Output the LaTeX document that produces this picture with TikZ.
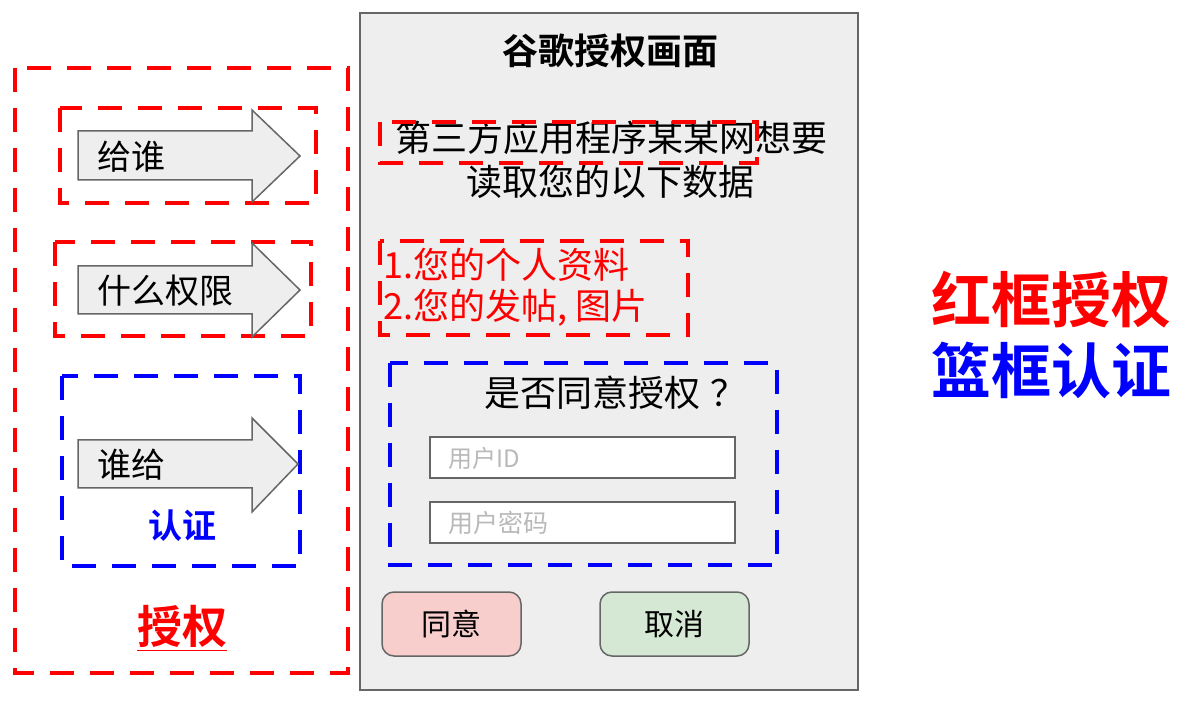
\documentclass[tikz,border=0pt]{standalone}
\usepackage{fontspec}
\setmainfont{Noto Sans CJK SC}[BoldFont={Noto Sans CJK SC Bold}]
\usetikzlibrary{positioning}

\definecolor{panelgray}{HTML}{EEEEEE}
\definecolor{edgegray}{HTML}{666666}
\definecolor{okred}{HTML}{F8CECC}
\definecolor{nogreen}{HTML}{D5E8D4}

\tikzset{
  redbox/.style={draw=red, line width=2pt, dash pattern=on 12pt off 8pt},
  bluebox/.style={draw=blue, line width=2pt, dash pattern=on 12pt off 8pt},
  arrowshape/.style={draw=edgegray, fill=panelgray, line width=0.75pt},
  field/.style={draw=edgegray, fill=white, line width=0.75pt},
  button/.style={draw=edgegray, line width=0.75pt, rounded corners=6pt},
  label/.style={inner sep=0pt, font=\fontsize{17}{20}\selectfont},
}

\begin{document}
\begin{tikzpicture}[x=0.5pt, y=-0.5pt]
  \useasboundingbox (0,0) rectangle (1200,705);

  % left side: what the authorization says
  \draw[redbox] (15,68) rectangle (348,673);
  \draw[redbox] (60,108) rectangle (316,203);
  \draw[redbox] (55,242) rectangle (311,336);
  \draw[bluebox] (62,376) rectangle (300,566);

  \draw[arrowshape] (78,131) -- (252,131) -- (252,110) -- (300,156)
    -- (252,202) -- (252,180) -- (78,180) -- cycle;
  \draw[arrowshape] (78,266) -- (252,266) -- (252,243) -- (300,290)
    -- (252,337) -- (252,314) -- (78,314) -- cycle;
  \draw[arrowshape] (78,440) -- (252,440) -- (252,418) -- (298,464)
    -- (252,512) -- (252,488) -- (78,488) -- cycle;

  \node[label, anchor=west] (givewho) at (97,157) {给谁};
  \node[label, anchor=west] (scope) at (97,291) {什么权限};
  \node[label, anchor=west] (whogive) at (97,465) {谁给};
  \node[inner sep=0pt, text=blue, font=\fontsize{17}{20}\selectfont\bfseries] (authn) at (182,526) {认证};
  \node[inner sep=0pt, text=red, font=\fontsize{22.5}{26}\selectfont\bfseries] (authz) at (182,628) {\underline{授权}};

  % the consent screen
  \draw[draw=edgegray, fill=panelgray, line width=0.75pt] (360,13) rectangle (858,690);
  \node[inner sep=0pt, font=\fontsize{18}{22}\selectfont\bfseries] (title) at (610,51) {谷歌授权画面};
  \node[label, font=\fontsize{18}{22}\selectfont] (askline) at (611,138) {第三方应用程序某某网想要};
  \node[label, font=\fontsize{18}{22}\selectfont] (readline) at (610,182) {读取您的以下数据};
  \draw[redbox] (380,122) rectangle (757,163);

  \node[label, anchor=west, text=red, font=\fontsize{18}{22}\selectfont] (item1) at (383,265) {1.您的个人资料};
  \node[label, anchor=west, text=red, font=\fontsize{18}{22}\selectfont] (item2) at (383,308) {2.您的发帖,\hspace{4pt}图片};
  \draw[redbox] (380,241) rectangle (688,335);

  \draw[bluebox] (390,363) rectangle (777,565);
  \node[label, anchor=west, font=\fontsize{18}{22}\selectfont] (question) at (484,393) {是否同意授权\hspace{5pt}？};
  \draw[field] (430,437) rectangle (735,478);
  \draw[field] (430,502) rectangle (735,543);
  \node[inner sep=0pt, anchor=west, text=gray!55, font=\fontsize{12}{14}\selectfont] (userid) at (448,458) {用户ID};
  \node[inner sep=0pt, anchor=west, text=gray!55, font=\fontsize{12.5}{14}\selectfont] (userpw) at (448,523) {用户密码};

  \draw[button, fill=okred] (382,592) rectangle (521,656);
  \draw[button, fill=nogreen] (600,592) rectangle (749,656);
  \node[inner sep=0pt, font=\fontsize{15}{18}\selectfont] (agree) at (451,624) {同意};
  \node[inner sep=0pt, font=\fontsize{15}{18}\selectfont] (cancel) at (674,624) {取消};

  % legend
  \node[inner sep=0pt, text=red, font=\fontsize{30}{34}\selectfont\bfseries] (redkey) at (1051,300) {红框授权};
  \node[inner sep=0pt, text=blue, font=\fontsize{30}{34}\selectfont\bfseries] (bluekey) at (1051,370) {篮框认证};
\end{tikzpicture}
\end{document}
